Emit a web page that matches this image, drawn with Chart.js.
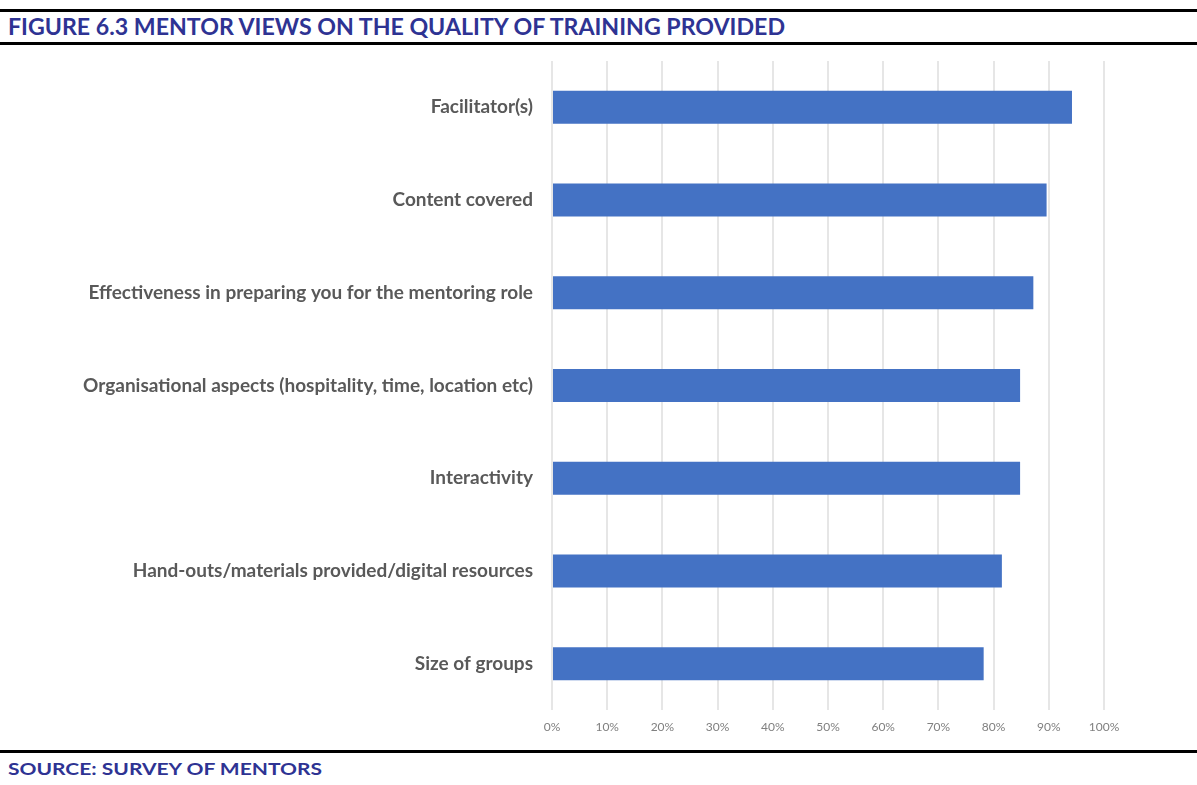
<!DOCTYPE html>
<html>
<head>
<meta charset="utf-8">
<script src="https://cdn.jsdelivr.net/npm/chart.js@4.4.0/dist/chart.umd.min.js"></script>
<style>
    body { margin: 0; background: #fff; }
    #page { position: relative; width: 1197px; height: 785px; overflow: hidden; }
    .rule { position: absolute; left: 0; width: 1197px; height: 3px; background: #000; }
    .caption { position: absolute; left: 8px; font-family: Lato, sans-serif; font-weight: bold; color: #2E3393; white-space: nowrap; }
    #chartBox { position: absolute; left: 0; top: 0; width: 1197px; height: 785px; }
</style>
</head>
<body>
<div id="page">
    <div class="rule" style="top: 9px;"></div>
    <div class="caption" id="title" style="top: 13px; font-size: 22px;">FIGURE 6.3 MENTOR VIEWS ON THE QUALITY OF TRAINING PROVIDED</div>
    <div class="rule" style="top: 42px;"></div>
    <div class="rule" style="top: 750px;"></div>
    <div class="caption" id="source" style="top: 758px; font-size: 17px;">SOURCE: SURVEY OF MENTORS</div>
    <div id="chartBox"><canvas id="myChart" width="1197" height="785"></canvas></div>
</div>
<script>
// Chart data
const categories = [
    'Facilitator(s)',
    'Content covered',
    'Effectiveness in preparing you for the mentoring role',
    'Organisational aspects (hospitality, time, location etc)',
    'Interactivity',
    'Hand-outs/materials provided/digital resources',
    'Size of groups'
];
const ratings = [94.2, 89.6, 87.2, 84.8, 84.8, 81.5, 78.2];
const xTicks = [0, 10, 20, 30, 40, 50, 60, 70, 80, 90, 100];

// squeeze captions to the width they have in the figure
function fitWidth(id, w) {
    let el = document.getElementById(id);
    let actual = el.getBoundingClientRect().width;
    el.style.transformOrigin = 'left top';
    el.style.transform = 'scaleX(' + (w / actual) + ')';
}
fitWidth('title', 777);
fitWidth('source', 314);

const ctx = document.getElementById('myChart');
const myChart = new Chart(ctx, {
    type: 'bar',
    data: {
        labels: categories,
        datasets: [{
            data: ratings,
            backgroundColor: '#4472C4',
            borderWidth: 0,
            categoryPercentage: 1,
            barPercentage: 0.356
        }]
    },
    options: {
        indexAxis: 'y',
        responsive: false,
        animation: false,
        layout: {
            padding: { left: 0, right: 93, top: 61, bottom: 45 }
        },
        plugins: {
            legend: { display: false },
            tooltip: { enabled: false }
        },
        scales: {
            x: {
                min: 0,
                max: 100,
                afterFit: (scale) => { scale.height = 30; },
                afterBuildTicks: (scale) => {
                    scale.ticks = xTicks.map(v => ({ value: v }));
                },
                grid: { color: '#e6e6e6', lineWidth: 2, drawTicks: false },
                border: { display: false },
                ticks: {
                    padding: 10,
                    color: '#808080',
                    font: { family: 'Lato', size: 12 },
                    callback: (v) => v + '%'
                }
            },
            y: {
                afterFit: (scale) => { scale.width = 552; },
                grid: { display: false },
                border: { display: false },
                ticks: {
                    padding: 11,
                    color: '#595959',
                    font: { family: 'Lato', size: 19, weight: 'bold' }
                }
            }
        }
    }
});
</script>
</body>
</html>
